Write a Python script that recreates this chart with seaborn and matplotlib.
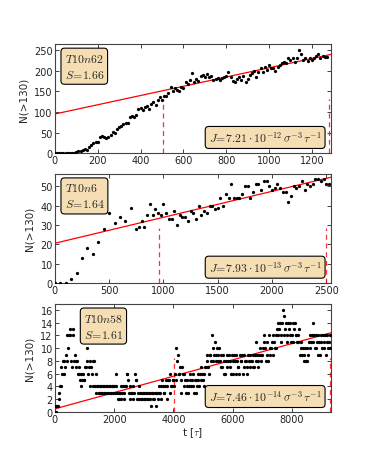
import numpy as np
import seaborn as sns
import matplotlib.pyplot as plt

# --- data ---
# panel 1: T10n62
n1_step = 10
n1 = [0, 0, 0, 0, 0, 0, 0, 0, 0, 1, 2,
      4, 6, 8, 10, 7, 14, 20, 24, 27, 28,
      38, 42, 40, 36, 38, 45, 52, 50, 58, 64,
      66, 70, 74, 72, 88, 90, 88, 92, 108, 110,
      104, 112, 115, 108, 120, 124, 118, 130, 136, 128,
      140, 138, 145, 160, 150, 158, 154, 152, 160, 158,
      172, 168, 178, 194, 172, 180, 176, 188, 190, 186,
      192, 184, 188, 178, 180, 182, 178, 182, 186, 188,
      198, 184, 176, 172, 180, 186, 178, 188, 174, 180,
      190, 194, 200, 186, 196, 206, 198, 210, 202, 214,
      206, 208, 200, 210, 214, 218, 222, 220, 230, 226,
      232, 222, 230, 250, 240, 226, 230, 224, 232, 226,
      232, 236, 240, 232, 236, 234, 234]
fit1 = (95.0, 0.1124)          # intercept, slope
cut1 = [507, 1282]
xmax1, ymax1 = 1290, 265

# panel 2: T10n6
t2 = list(range(0, 800, 50)) + list(range(775, 2550, 25))
n2 = [0, 0, 0, 2, 5, 13, 18, 15, 21, 28, 36, 31, 34, 32, 39, 28,
      29, 32, 29, 35, 41, 35, 38, 36, 35, 41,
      36, 33, 33, 37, 30, 35, 34, 34, 32, 37,
      36, 33, 40, 35, 37, 36, 40, 40, 38, 39,
      44, 40, 46, 44, 51, 44, 44, 44, 46, 50,
      50, 44, 47, 51, 51, 48, 53, 53, 50, 48,
      49, 51, 49, 47, 47, 42, 45, 50, 49, 50,
      53, 48, 51, 50, 51, 54, 54, 53, 54, 51,
      51]
fit2 = (20.5, 0.01346)
cut2 = [958, 2495]
xmax2, ymax2 = 2545, 56.5

# panel 3: T10n58 (samples at t = 0, 50, ... and t = 25, 75, ...)
n3_step = 50
n3 = [1, 1, 1, 2, 4, 6, 8, 7, 12, 10,
      13, 8, 12, 8, 7, 8, 6, 5, 4, 6,
      5, 7, 10, 7, 8, 6, 8, 4, 3, 4,
      3, 4, 3, 4, 3, 4, 3, 4, 3, 4,
      4, 6, 3, 2, 3, 2, 4, 3, 4, 6,
      3, 2, 3, 4, 6, 5, 3, 2, 3, 2,
      3, 2, 3, 2, 3, 1, 3, 2, 1, 3,
      4, 3, 2, 4, 3, 5, 4, 5, 6, 4,
      5, 6, 10, 9, 6, 3, 7, 6, 5, 4,
      3, 5, 4, 6, 3, 5, 4, 5, 6, 7,
      5, 4, 7, 8, 6, 9, 12, 8, 11, 9,
      8, 10, 9, 7, 8, 6, 9, 8, 7, 6,
      8, 9, 6, 8, 7, 9, 8, 6, 9, 8,
      7, 8, 9, 8, 7, 9, 11, 7, 9, 8,
      9, 12, 10, 11, 8, 9, 10, 12, 11, 10,
      13, 12, 14, 11, 16, 15, 14, 12, 13, 14,
      12, 11, 14, 12, 11, 13, 10, 9, 8, 10,
      8, 9, 12, 11, 14, 12, 10, 11, 12, 9,
      11, 12, 10, 9, 12, 11, 10]
n3b = [0, 1, 3, 4, 7, 8, 6, 9, 8, 12,
       12, 7, 13, 9, 8, 6, 7, 6, 5, 5,
       7, 8, 6, 4, 7, 4, 8, 6, 4, 3,
       4, 3, 4, 3, 4, 3, 4, 3, 4, 3,
       3, 4, 2, 3, 4, 3, 2, 4, 6, 5,
       4, 3, 2, 3, 5, 2, 4, 3, 2, 3,
       2, 3, 2, 3, 2, 3, 2, 3, 3, 2,
       3, 4, 5, 3, 4, 2, 5, 3, 4, 5,
       4, 5, 8, 6, 7, 5, 6, 4, 3, 5,
       4, 6, 5, 4, 5, 3, 6, 4, 5, 6,
       6, 7, 9, 7, 9, 8, 10, 9, 8, 10,
       9, 8, 7, 9, 6, 8, 7, 9, 8, 9,
       6, 8, 9, 7, 6, 8, 9, 7, 8, 6,
       9, 7, 8, 9, 7, 8, 9, 8, 10, 9,
       10, 11, 8, 9, 12, 10, 11, 9, 10, 12,
       14, 13, 12, 14, 12, 13, 11, 14, 12, 11,
       14, 13, 12, 11, 12, 9, 11, 10, 9, 8,
       10, 11, 10, 12, 11, 10, 12, 9, 11, 12,
       10, 11, 12, 11, 10, 12]
fit3 = (0.5, 0.001276)
cut3 = [4010, 9300]
xmax3, ymax3 = 9330, 16.9

labels = [r"$T10n62$" + "\n" + r"$S\!=\!1.66$",
          r"$T10n6$" + "\n" + r"$S\!=\!1.64$",
          r"$T10n58$" + "\n" + r"$S\!=\!1.61$"]
rates = [r"$J\!=\!7.21\cdot10^{-12}\,\sigma^{-3}\,\tau^{-1}$",
         r"$J\!=\!7.93\cdot10^{-13}\,\sigma^{-3}\,\tau^{-1}$",
         r"$J\!=\!7.46\cdot10^{-14}\,\sigma^{-3}\,\tau^{-1}$"]

sns.set_style("ticks", {"xtick.direction": "in", "ytick.direction": "in",
                        "axes.edgecolor": "#444444"})
plt.rcParams["mathtext.fontset"] = "cm"
plt.rcParams["font.family"] = ["DejaVu Sans"]

fig = plt.figure(figsize=(3.68, 4.6), dpi=100)
boxes = [[0.149, 0.665, 0.751, 0.237],
         [0.149, 0.383, 0.751, 0.237],
         [0.149, 0.102, 0.751, 0.235]]

t3 = np.concatenate([np.arange(len(n3)) * n3_step,
                     np.arange(len(n3b)) * n3_step + n3_step // 2])
panels = [
    (np.arange(len(n1)) * n1_step, n1, fit1, cut1, xmax1, ymax1,
     [0, 200, 400, 600, 800, 1000, 1200], [0, 50, 100, 150, 200, 250], 0.035),
    (np.array(t2), n2, fit2, cut2, xmax2, ymax2,
     [0, 500, 1000, 1500, 2000, 2500], [0, 10, 20, 30, 40, 50], 0.035),
    (t3, n3 + n3b, fit3, cut3, xmax3, ymax3,
     [0, 2000, 4000, 6000, 8000], list(range(0, 17, 2)), 0.105),
]

bbox = dict(boxstyle="round,pad=0.3", facecolor="#f5deb3", edgecolor="black", lw=0.8)

for k, (t, n, fit, cut, xmax, ymax, xt, yt, lx) in enumerate(panels):
    ax = fig.add_axes(boxes[k])
    sns.scatterplot(x=t, y=n, ax=ax, color="black", s=5.5, linewidth=0, zorder=3)
    xx = np.array([0, xmax])
    ax.plot(xx, fit[0] + fit[1] * xx, color="red", lw=0.9, zorder=2)
    for c in cut:
        ax.axvline(c, ymin=0, ymax=0.5, color="red", ls=(0, (4, 3)), lw=0.9, alpha=0.8)
    ax.set_xlim(0, xmax)
    ax.set_ylim(0, ymax)
    ax.set_xticks(xt)
    ax.set_yticks(yt)
    ax.tick_params(top=True, right=True, labelsize=7, length=3, width=0.6,
                   pad=1.5, colors="#222222")
    for s in ax.spines.values():
        s.set_linewidth(0.8)
    ax.set_ylabel("N(>130)", fontsize=7.5, labelpad=4)
    ax.text(lx, 0.93, labels[k], transform=ax.transAxes, fontsize=8.5,
            va="top", ha="left", bbox=bbox, linespacing=1.3, zorder=5)
    ax.text(0.965, 0.075, rates[k], transform=ax.transAxes, fontsize=8.5,
            va="bottom", ha="right", bbox=bbox, zorder=5)

ax.set_xlabel(r"t [$\tau$]", fontsize=7.5, labelpad=1)

fig.savefig("out.png", dpi=100)
